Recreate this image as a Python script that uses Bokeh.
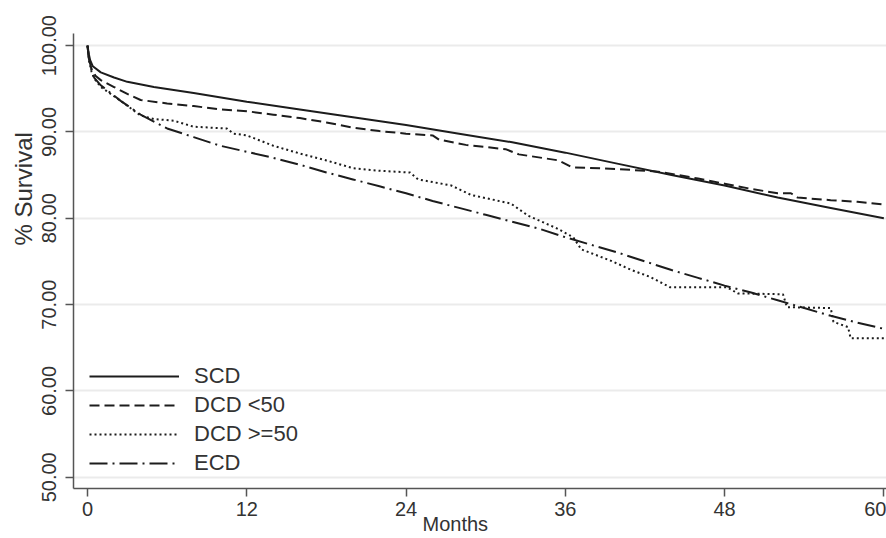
from bokeh.plotting import figure
from bokeh.models import FixedTicker, PrintfTickFormatter, Range1d, Title
from bokeh.embed import file_html
from bokeh.resources import INLINE

# ---- data (months, % survival) ----
scd_m = [0, 0.1, 0.2, 0.4, 1, 2, 3, 5, 8, 12, 16, 20, 24, 28, 32, 36, 40, 44, 48, 52, 56, 60]
scd_s = [100, 99.0, 98.3, 97.6, 96.9, 96.3, 95.8, 95.2, 94.5, 93.5, 92.6, 91.7, 90.8, 89.8,
         88.8, 87.6, 86.3, 85.0, 83.8, 82.4, 81.2, 80.0]

dcd50_m = [0, 0.1, 0.3, 0.6, 1, 2, 3, 4, 6, 8, 10, 12, 14, 16, 18, 20, 22, 24, 26, 26.5,
           28.5, 31.5, 32.5, 35.5, 36.5, 40, 43, 46, 48, 50, 52, 53, 53.5, 56, 58, 60]
dcd50_s = [100, 98.5, 97.3, 96.5, 96.0, 95.2, 94.4, 93.7, 93.3, 93.0, 92.6, 92.4, 92.0, 91.6,
           91.1, 90.5, 90.1, 89.8, 89.6, 89.1, 88.5, 88.0, 87.4, 86.7, 85.9, 85.7, 85.4, 84.6,
           84.0, 83.4, 82.9, 82.9, 82.4, 82.1, 81.9, 81.6]

dcd50p_m = [0, 0.1, 0.3, 0.5, 1, 2.5, 4, 5, 6.5, 8, 10.5, 11, 12, 14, 16, 18, 20, 22, 24.3,
            24.9, 27.4, 28.9, 31.9, 33.2, 35.4, 36.6, 37.2, 39.4, 41, 42.4, 43.9, 48.2, 49,
            52.4, 52.7, 56, 56.2, 57.3, 57.5, 60]
dcd50p_s = [100, 98.4, 97.0, 96.2, 95.2, 93.6, 91.9, 91.5, 91.3, 90.6, 90.4, 89.8, 89.6, 88.4,
            87.5, 86.7, 85.8, 85.5, 85.3, 84.5, 83.8, 82.7, 81.7, 80.3, 78.8, 77.8, 76.4, 75.1,
            74.0, 73.2, 72.0, 72.0, 71.3, 71.2, 69.7, 69.6, 68.0, 67.4, 66.1, 66.1]

ecd_m = [0, 0.1, 0.3, 0.5, 1, 2.5, 4, 6, 8, 10, 12, 14, 16, 18, 20, 22, 24, 26, 28, 30, 32,
         34, 36, 38, 40, 42, 44, 46, 48, 50, 52, 54, 56, 58, 60]
ecd_s = [100, 98.5, 97.2, 96.3, 95.4, 93.6, 92.0, 90.4, 89.4, 88.4, 87.7, 87.0, 86.2, 85.3,
         84.5, 83.7, 82.9, 82.0, 81.2, 80.4, 79.6, 78.8, 77.8, 76.9, 76.0, 75.0, 74.0, 73.1,
         72.2, 71.4, 70.5, 69.6, 68.7, 67.9, 67.2]

x_ticks = [0, 12, 24, 36, 48, 60]
y_ticks = [50, 60, 70, 80, 90, 100]

TXT = "#333333"
AX = "#555555"
LINE = "#1c1c1c"
FONT = "Liberation Sans"

p = figure(width=886, height=538, output_backend="svg", toolbar_location=None,
           x_range=Range1d(-1.055, 60.2), y_range=Range1d(48.7, 101.4),
           min_border_left=73, min_border_right=0, min_border_top=33, min_border_bottom=50)
p.outline_line_color = None
p.background_fill_color = "white"
p.border_fill_color = "white"

p.xgrid.grid_line_color = None
p.ygrid.ticker = FixedTicker(ticks=y_ticks)
p.ygrid.grid_line_color = "#ebebeb"
p.ygrid.grid_line_width = 2

for ax in (p.xaxis[0], p.yaxis[0]):
    ax.axis_line_color = AX
    ax.axis_line_width = 1.5
    ax.major_tick_line_color = AX
    ax.major_tick_line_width = 1.5
    ax.major_tick_out = 8
    ax.major_tick_in = 0
    ax.minor_tick_line_color = None
    ax.major_label_text_color = TXT
    ax.major_label_text_font = FONT
    ax.major_label_text_font_size = "20px"

p.xaxis.ticker = FixedTicker(ticks=x_ticks)
p.xaxis.major_label_standoff = 5
p.yaxis.ticker = FixedTicker(ticks=y_ticks)
p.yaxis.formatter = PrintfTickFormatter(format="%.2f")
p.yaxis.major_label_orientation = "vertical"
p.yaxis.major_label_standoff = 9

p.line(scd_m, scd_s, line_color=LINE, line_width=2, legend_label="SCD")
p.line(dcd50_m, dcd50_s, line_color=LINE, line_width=2, line_dash="10 5", legend_label="DCD <50")
p.line(dcd50p_m, dcd50p_s, line_color=LINE, line_width=2, line_dash="2 3", legend_label="DCD >=50")
p.line(ecd_m, ecd_s, line_color=LINE, line_width=2, line_dash="18 5 2 5", legend_label="ECD")

lg = p.legend[0]
lg.location = (16, 12)
lg.border_line_color = None
lg.background_fill_alpha = 0
lg.padding = 0
lg.margin = 0
lg.spacing = 3
lg.glyph_width = 90
lg.glyph_height = 24
lg.label_height = 24
lg.label_standoff = 15
lg.label_text_font = FONT
lg.label_text_font_size = "22px"
lg.label_text_color = TXT

ytitle = Title(text="% Survival", align="left", offset=243, standoff=2, vertical_align="top",
               text_font=FONT, text_font_size="24px", text_font_style="normal",
               text_color=TXT)
p.add_layout(ytitle, "left")

xtitle = Title(text="Months", align="left", offset=349, standoff=-12, vertical_align="top",
               text_font=FONT, text_font_size="20px", text_font_style="normal",
               text_color=TXT)
p.add_layout(xtitle, "below")

open("out.html", "w").write(file_html(p, INLINE))
